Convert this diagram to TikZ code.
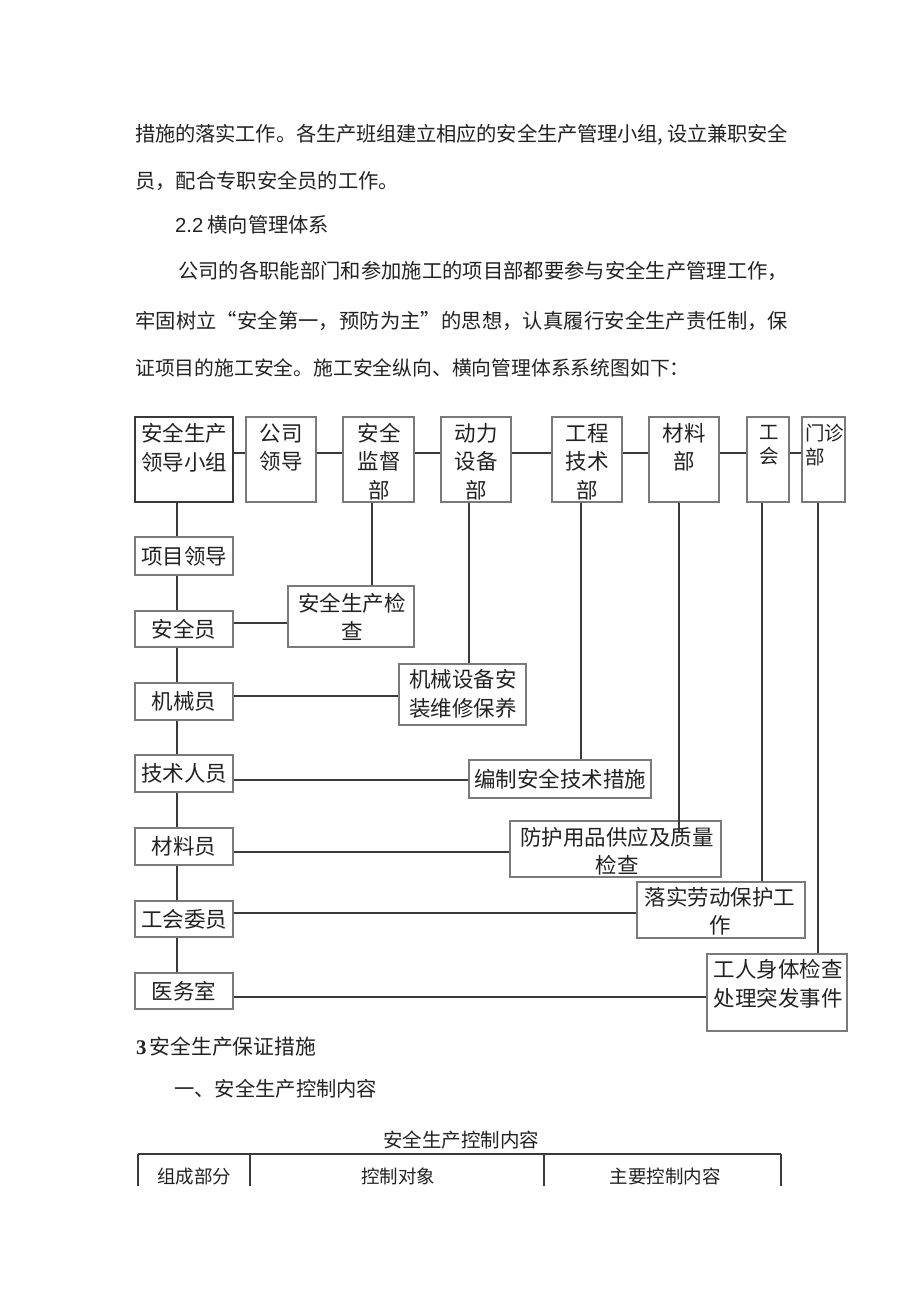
\documentclass[tikz,border=0pt]{standalone}
\usepackage{fontspec}
\setmainfont{Noto Sans CJK SC}
\newfontfamily\latinsans{Liberation Sans}
\newfontfamily\latinserif{Liberation Serif}
\XeTeXlinebreaklocale "zh"
\XeTeXlinebreakskip=0pt plus 3pt minus 0.5pt
\definecolor{boxc}{HTML}{7A7A7A}
\definecolor{linec}{HTML}{3A3A3A}
\definecolor{txtc}{HTML}{222222}
% [style]{name}{x1}{y1}{x2}{y2}
\newcommand\mkbox[6][bx]{\node[#1, minimum width={#5-#3}, minimum height={#6-#4}] (#2) at ({(#3+#5)/2},{(#4+#6)/2}) {};}
\newcommand\jline[2]{\parbox{#1}{\parfillskip=0pt\relax #2}}
\begin{document}
\begin{tikzpicture}[x=1pt,y=-1pt,
  bx/.style={draw=boxc, line width=1.1pt, inner sep=0pt},
  bxthick/.style={draw=linec, line width=2pt, inner sep=0pt},
  conn/.style={draw=linec, line width=1.3pt},
  bt/.style={inner sep=0pt, text=txtc, font=\fontsize{21.5}{28.5}\selectfont, align=center},
  btsmall/.style={inner sep=0pt, text=txtc, font=\fontsize{19.5}{24}\selectfont, align=center},
  para/.style={inner sep=0pt, text=txtc, font=\fontsize{20.3}{24}\selectfont, anchor=west},
  tabtxt/.style={inner sep=0pt, text=txtc, font=\fontsize{18.5}{22}\selectfont},
]
\fill[white] (0,0) rectangle (920,1301);
\useasboundingbox (0,0) rectangle (920,1301);

% ---------- text above ----------
\node[para] (p1) at (135,135) {\jline{653pt}{措施的落实工作。各生产班组建立相应的安全生产管理小组,\hspace{4pt}设立兼职安全}};
\node[para] (p2) at (135,181) {员，配合专职安全员的工作。};
\node[para] (p3) at (175,225) {{\latinsans 2.2}\hspace{4pt}横向管理体系};
\node[para] (p4) at (178,271) {\jline{610pt}{公司的各职能部门和参加施工的项目部都要参与安全生产管理工作，}};
\node[para] (p5) at (135,321) {\jline{653pt}{牢固树立“安全第一，预防为主”的思想，认真履行安全生产责任制，保}};
\node[para, font=\fontsize{19.8}{24}\selectfont] (p6) at (135,368) {证项目的施工安全。施工安全纵向、横向管理体系系统图如下：};

% ---------- top row ----------
\mkbox[bxthick]{t1}{135}{417}{233}{502}
\mkbox{t2}{246}{417}{316}{502}
\mkbox{t3}{343}{417}{414}{502}
\mkbox{t4}{441}{417}{511}{502}
\mkbox{t5}{552}{417}{622}{502}
\mkbox{t6}{649}{417}{719}{502}
\mkbox{t7}{747}{417}{789}{502}
\mkbox{t8}{802}{417}{845}{502}

\node[bt] (t1x) at (184,447.5) {安全生产\\领导小组};
\node[bt] (t2x) at (281,447.5) {公司\\领导};
\node[bt] (t3x) at (379,461.5) {安全\\监督\\部};
\node[bt] (t4x) at (476,461.5) {动力\\设备\\部};
\node[bt] (t5x) at (587,461.5) {工程\\技术\\部};
\node[bt] (t6x) at (684,447.5) {材料\\部};
\node[btsmall] (t7x) at (769,445) {工\\会};
\node[btsmall, align=left, anchor=west] (t8x) at (805,445) {门诊\\部};

% ---------- left column ----------
\mkbox{l1}{135}{537}{233}{575}
\mkbox{l2}{135}{611}{233}{647}
\mkbox{l3}{135}{683}{233}{720}
\mkbox{l4}{135}{755}{233}{792}
\mkbox{l5}{135}{828}{233}{865}
\mkbox{l6}{135}{901}{233}{937}
\mkbox{l7}{135}{973}{233}{1009}

\node[bt] (l1x) at (l1) {项目领导};
\node[bt] (l2x) at (l2) {安全员};
\node[bt] (l3x) at (l3) {机械员};
\node[bt] (l4x) at (l4) {技术人员};
\node[bt] (l5x) at (l5) {材料员};
\node[bt] (l6x) at (l6) {工会委员};
\node[bt] (l7x) at (l7) {医务室};

% ---------- right boxes ----------
\mkbox{r1}{288}{586}{414}{647}
\mkbox{r2}{399}{664}{526}{725}
\mkbox{r3}{469}{760}{651}{798}
\mkbox{r4}{510}{821}{721}{877}
\mkbox{r5}{637}{882}{805}{938}
\mkbox{r6}{707}{954}{847}{1031}

\node[bt] (r1x) at (352,617) {安全生产检\\查};
\node[bt] (r2x) at (463,694) {机械设备安\\装维修保养};
\node[bt] (r3x) at (r3) {编制安全技术措施};
\node[bt] (r4x) at (617,851) {防护用品供应及质量\\检查};
\node[bt] (r5x) at (720,911) {落实劳动保护工\\作};
\node[bt] (r6x) at (778,984) {工人身体检查\\处理突发事件};

% ---------- helper coordinates ----------
\coordinate (sp) at (177,0);
\coordinate (d3) at (372,0);
\coordinate (d4) at (469,0);
\coordinate (d5) at (581,0);
\coordinate (d6) at (679,0);
\coordinate (d7) at (762,0);
\coordinate (d8) at (818,0);
\coordinate (htop) at (0,453);
\coordinate (h2) at (0,623);
\coordinate (h3) at (0,696);
\coordinate (h4) at (0,780);
\coordinate (h5) at (0,852);
\coordinate (h6) at (0,913);
\coordinate (h7) at (0,997);

% top row links
\draw[conn] (t1.east |- htop) -- (t2.west |- htop);
\draw[conn] (t2.east |- htop) -- (t3.west |- htop);
\draw[conn] (t3.east |- htop) -- (t4.west |- htop);
\draw[conn] (t4.east |- htop) -- (t5.west |- htop);
\draw[conn] (t5.east |- htop) -- (t6.west |- htop);
\draw[conn] (t6.east |- htop) -- (t7.west |- htop);
\draw[conn] (t7.east |- htop) -- (t8.west |- htop);

% spine
\draw[conn] (t1.south -| sp) -- (l1.north -| sp);
\draw[conn] (l1.south -| sp) -- (l2.north -| sp);
\draw[conn] (l2.south -| sp) -- (l3.north -| sp);
\draw[conn] (l3.south -| sp) -- (l4.north -| sp);
\draw[conn] (l4.south -| sp) -- (l5.north -| sp);
\draw[conn] (l5.south -| sp) -- (l6.north -| sp);
\draw[conn] (l6.south -| sp) -- (l7.north -| sp);

% drops from departments
\draw[conn] (t3.south -| d3) -- (r1.north -| d3);
\draw[conn] (t4.south -| d4) -- (r2.north -| d4);
\draw[conn] (t5.south -| d5) -- (r3.north -| d5);
\draw[conn] (t6.south -| d6) -- ([yshift=-12pt]r4.north -| d6);
\draw[conn] (t7.south -| d7) -- (r5.north -| d7);
\draw[conn] (t8.south -| d8) -- (r6.north -| d8);

% left to right links
\draw[conn] (l2.east |- h2) -- (r1.west |- h2);
\draw[conn] (l3.east |- h3) -- (r2.west |- h3);
\draw[conn] (l4.east |- h4) -- (r3.west |- h4);
\draw[conn] (l5.east |- h5) -- (r4.west |- h5);
\draw[conn] (l6.east |- h6) -- (r5.west |- h6);
\draw[conn] (l7.east |- h7) -- (r6.west |- h7);

% ---------- text below ----------
\node[para, font=\fontsize{20.8}{24}\selectfont] (s3) at (136,1047) {{\latinserif\bfseries 3}\hspace{3pt}安全生产保证措施};
\node[para] (s4) at (174,1089) {一、安全生产控制内容};
\node[tabtxt, font=\fontsize{19.5}{22}\selectfont] (tt) at (461,1140) {安全生产控制内容};

% table (cut off)
\coordinate (ta) at (138,1154);
\coordinate (tb) at (250,1154);
\coordinate (tc) at (544,1154);
\coordinate (td) at (781,1154);
\coordinate (tbot) at (0,1186);
\draw[conn, line width=1.2pt] (ta) -- (td);
\draw[conn, line width=1.2pt] (ta) -- (ta |- tbot);
\draw[conn, line width=1.2pt] (tb) -- (tb |- tbot);
\draw[conn, line width=1.2pt] (tc) -- (tc |- tbot);
\draw[conn, line width=1.2pt] (td) -- (td |- tbot);
\node[tabtxt] (c1) at (194,1176) {组成部分};
\node[tabtxt] (c2) at (398,1176) {控制对象};
\node[tabtxt] (c3) at (665,1176) {主要控制内容};
\end{tikzpicture}
\end{document}
